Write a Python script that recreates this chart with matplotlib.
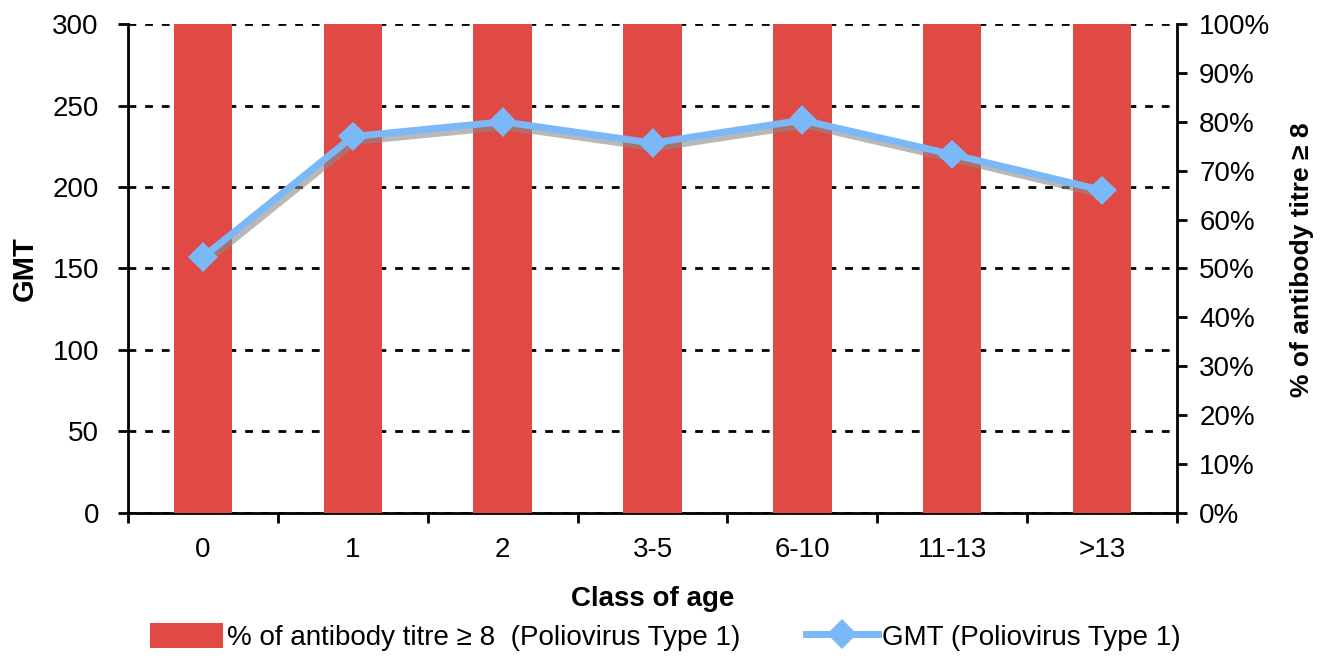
import matplotlib
matplotlib.use("Agg")
import matplotlib.pyplot as plt
import matplotlib.patheffects as pe
from matplotlib.ticker import FixedLocator, NullFormatter, FixedFormatter, PercentFormatter
from matplotlib.lines import Line2D
from matplotlib.patches import Patch

plt.rcParams['font.family'] = ['Liberation Sans', 'DejaVu Sans']

categories = ["0", "1", "2", "3-5", "6-10", "11-13", ">13"]
pct_titre = [100, 100, 100, 100, 100, 100, 100]
gmt = [157, 231, 240, 227, 241, 220, 198]
gmt_ticks = [0, 50, 100, 150, 200, 250, 300]
pct_ticks = [0, 10, 20, 30, 40, 50, 60, 70, 80, 90, 100]

bar_color = "#e04a45"
line_color = "#7ab8f7"
FS = 20

fig = plt.figure(figsize=(13.31, 6.58), dpi=100)
ax = fig.add_axes([0.0962, 0.2204, 0.7881, 0.7431])
ax2 = ax.twinx()
ax3 = ax.twinx()

x = list(range(len(categories)))

# left axis (GMT) with gridlines
ax.set_xlim(-0.5, len(categories) - 0.5)
ax.set_ylim(0, 300)
ax.set_yticks(gmt_ticks)
ax.yaxis.grid(True, color="black", linestyle=(0, (2.8, 3.2)), linewidth=2)
ax.set_axisbelow(True)
ax.tick_params(axis="y", direction="out", length=7, width=2, pad=14, labelsize=FS)
ax.set_ylabel("GMT", fontsize=21, fontweight="bold", labelpad=10)
for s in ["top", "right"]:
    ax.spines[s].set_visible(False)
ax.spines["left"].set_linewidth(2)
ax.spines["bottom"].set_linewidth(2)

# x ticks: major at boundaries, minor labels at centers
ax.xaxis.set_major_locator(FixedLocator([i - 0.5 for i in range(len(categories) + 1)]))
ax.xaxis.set_major_formatter(NullFormatter())
ax.xaxis.set_minor_locator(FixedLocator(x))
ax.xaxis.set_minor_formatter(FixedFormatter(categories))
ax.tick_params(axis="x", which="major", direction="out", length=7, width=2)
ax.tick_params(axis="x", which="minor", length=0, pad=17, labelsize=FS)
ax.set_xlabel("Class of age", fontsize=20, fontweight="bold", labelpad=17)

# right axis (percentage) with bars
ax2.bar(x, pct_titre, width=0.39, color=bar_color, zorder=2)
ax2.set_ylim(0, 100)
ax2.set_yticks(pct_ticks)
ax2.yaxis.set_major_formatter(PercentFormatter(decimals=0))
ax2.tick_params(axis="y", direction="out", length=7, width=2, pad=9, labelsize=FS)
ax2.set_ylabel("% of antibody titre \u2265 8", fontsize=19, fontweight="bold", labelpad=14)
ax2.yaxis.label.set_y(0.519)
for s in ["top", "left", "bottom"]:
    ax2.spines[s].set_visible(False)
ax2.spines["right"].set_linewidth(2)

# top axis for the GMT line
ax3.set_ylim(0, 300)
ax3.set_yticks([])
for s in ax3.spines.values():
    s.set_visible(False)
ax3.plot(x, gmt, color=line_color, linewidth=5, marker="D", markersize=15,
         markeredgewidth=0, zorder=5,
         path_effects=[pe.SimpleLineShadow(offset=(2, -3.5), shadow_color="#8a8a8a", alpha=0.6),
                       pe.Normal()])

handles = [Patch(facecolor=bar_color, edgecolor="none"),
           Line2D([0], [0], color=line_color, linewidth=5, marker="D", markersize=15, markeredgewidth=0)]
labels = ["% of antibody titre \u2265 8  (Poliovirus Type 1)", "GMT (Poliovirus Type 1)"]
fig.legend(handles, labels, loc="center", bbox_to_anchor=(0.500, 0.032), ncol=2, frameon=False,
           fontsize=FS, handlelength=2.6, handleheight=1.0, columnspacing=2.35, handletextpad=0.15)

fig.savefig("out.png", dpi=100)
